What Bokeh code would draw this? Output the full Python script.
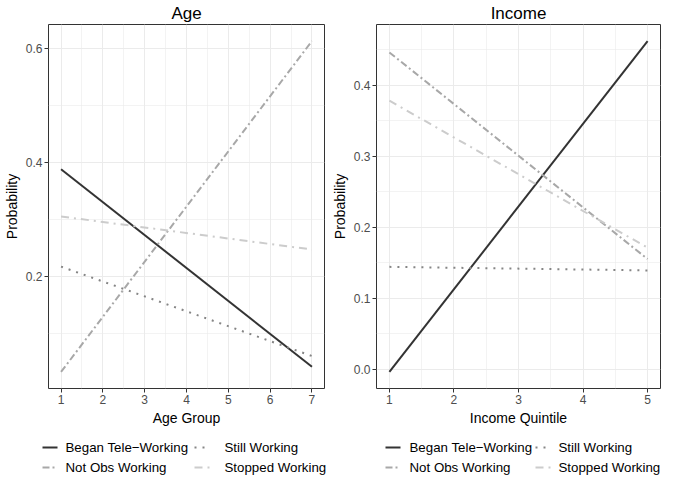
from bokeh.plotting import figure
from bokeh.models import Range1d, FixedTicker, PrintfTickFormatter
from bokeh.core.properties import value
from bokeh.layouts import row, column
from bokeh.embed import file_html
from bokeh.resources import INLINE

# ---- data ----
series_names = ["Began Tele\u2212Working", "Not Obs Working", "Still Working", "Stopped Working"]

age_x = [1, 7]
age_began = [0.388, 0.041]
age_notobs = [0.032, 0.613]
age_still = [0.217, 0.060]
age_stopped = [0.305, 0.247]

inc_x = [1, 5]
inc_began = [-0.004, 0.462]
inc_notobs = [0.446, 0.155]
inc_still = [0.144, 0.139]
inc_stopped = [0.378, 0.171]

age_xticks = [1, 2, 3, 4, 5, 6, 7]
age_xminor = [1.5, 2.5, 3.5, 4.5, 5.5, 6.5]
age_yticks = [0.2, 0.4, 0.6]
age_yminor = [0.1, 0.3, 0.5]

inc_xticks = [1, 2, 3, 4, 5]
inc_xminor = [1.5, 2.5, 3.5, 4.5]
inc_yticks = [0.0, 0.1, 0.2, 0.3, 0.4]
inc_yminor = [0.05, 0.15, 0.25, 0.35, 0.45]

# ---- styles ----
colors = ["#333333", "#A8A8A8", "#858585", "#CCCCCC"]
dashes = ["solid", "7 3 2 3", "2 6", "8 5 2 5"]
FONT = "Liberation Sans"
MAIN_H = 428
LEG_H = 48


def expand(vals, frac=0.05):
    lo, hi = min(vals), max(vals)
    d = (hi - lo) * frac
    return lo - d, hi + d


def panel(title, xlabel, x, ys, xticks, xminor, yticks, yminor, width, bl, br):
    allx = list(x)
    ally = [v for s in ys for v in s]
    x0, x1 = expand(allx)
    y0, y1 = expand(ally)
    p = figure(width=width, height=MAIN_H, output_backend="svg", toolbar_location=None,
               x_range=Range1d(x0, x1), y_range=Range1d(y0, y1),
               min_border_left=bl, min_border_right=br, min_border_top=0, min_border_bottom=0,
               title=title)
    p.title.align = "center"
    p.title.text_font = FONT
    p.title.text_font_size = "17px"
    p.title.text_font_style = "normal"
    p.title.text_color = "#000000"
    p.title.standoff = 3
    p.title.offset = 0

    p.background_fill_color = "white"
    p.border_fill_color = "white"
    p.outline_line_color = "#333333"
    p.outline_line_width = 1

    xt = FixedTicker(ticks=xticks, minor_ticks=xminor)
    yt = FixedTicker(ticks=yticks, minor_ticks=yminor)
    p.xaxis.ticker = xt
    p.yaxis.ticker = yt
    p.xgrid.ticker = xt
    p.ygrid.ticker = yt
    p.yaxis.formatter = PrintfTickFormatter(format="%.1f")
    p.xaxis.axis_label = xlabel
    p.yaxis.axis_label = "Probability"
    for ax in (p.xaxis, p.yaxis):
        ax.axis_line_color = None
        ax.major_tick_line_color = "#333333"
        ax.major_tick_in = 0
        ax.major_tick_out = 4
        ax.minor_tick_line_color = None
        ax.major_label_text_font = FONT
        ax.major_label_text_font_size = "12px"
        ax.major_label_text_color = "#4D4D4D"
        ax.major_label_standoff = 2
        ax.axis_label_text_font = FONT
        ax.axis_label_text_font_size = "14px"
        ax.axis_label_text_font_style = "normal"
        ax.axis_label_text_color = "#000000"
        ax.axis_label_standoff = 3
    for g in (p.xgrid, p.ygrid):
        g.grid_line_color = "#EBEBEB"
        g.grid_line_width = 1
        g.minor_grid_line_color = "#EBEBEB"
        g.minor_grid_line_width = 0.6

    for s, c, d in zip(ys, colors, dashes):
        p.line(x, s, line_color=c, line_dash=d, line_width=2)
    return p


def legend_fig(width, key_x, text_x, row_y, key_w):
    # key drawn in pixel units below a panel (2 columns x 2 rows, filled column-wise)
    q = figure(width=width, height=LEG_H, output_backend="svg", toolbar_location=None,
               x_range=Range1d(0, width), y_range=Range1d(LEG_H, 0),
               x_axis_location=None, y_axis_location=None,
               min_border=0)
    q.outline_line_color = None
    q.grid.visible = False
    q.background_fill_color = "white"
    q.border_fill_color = "white"
    slots = [(0, 0), (0, 1), (1, 0), (1, 1)]
    for i, (c, r) in enumerate(slots):
        gx = key_x[c]
        gy = row_y[r]
        q.line([gx, gx + key_w], [gy, gy], line_color=colors[i], line_dash=dashes[i], line_width=2)
        q.text([text_x[c]], [gy], text=[series_names[i]],
               text_font=value(FONT), text_font_size="13.3px", text_color="#000000",
               text_baseline="middle", text_align="left")
    return q


p1 = panel("Age", "Age Group", age_x, [age_began, age_notobs, age_still, age_stopped],
           age_xticks, age_xminor, age_yticks, age_yminor, 328, 38, 4)
p2 = panel("Income", "Income Quintile", inc_x, [inc_began, inc_notobs, inc_still, inc_stopped],
           inc_xticks, inc_xminor, inc_yticks, inc_yminor, 334, 48, 2)

l1 = legend_fig(328, [42, 194], [65, 224], [19, 39], 15)
l2 = legend_fig(334, [57, 207], [81, 230], [19, 39], 15)

layout = column(row(p1, p2), row(l1, l2))
open("out.html", "w").write(file_html(layout, INLINE))
